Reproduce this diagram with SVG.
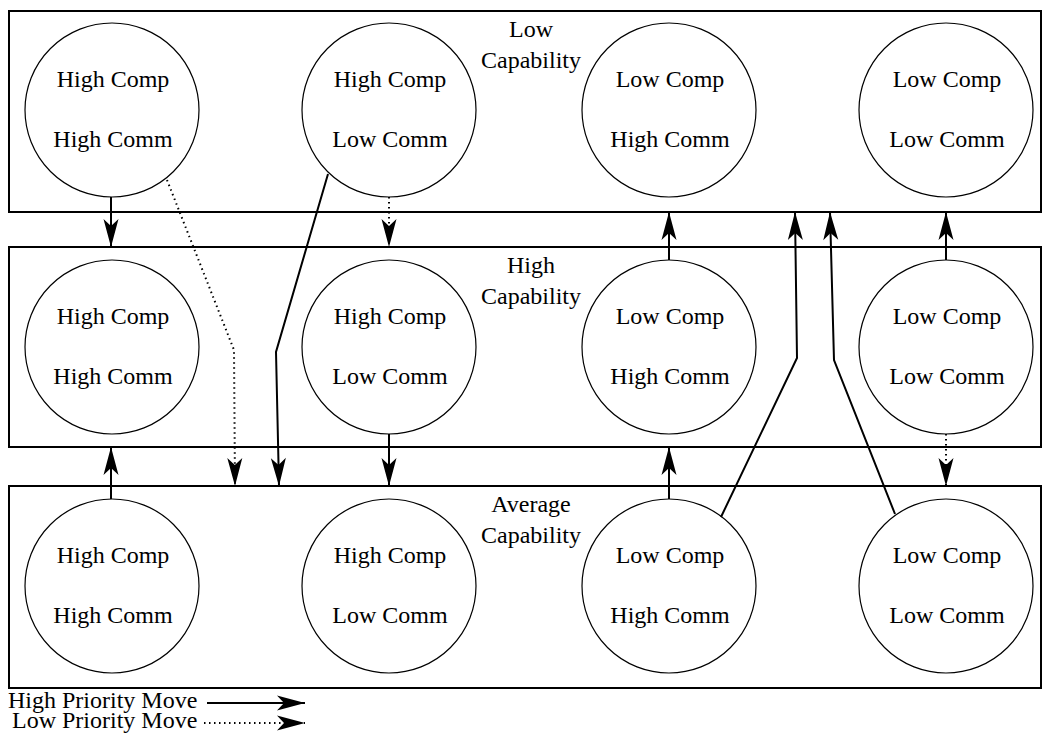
<svg xmlns="http://www.w3.org/2000/svg" width="1044" height="733" viewBox="0 0 1044 733">
<defs>
<marker id="ah" markerUnits="userSpaceOnUse" markerWidth="30" markerHeight="18" viewBox="-29 -9 30 18" refX="0" refY="0" orient="auto">
<path d="M0,0 L-28,-7.5 L-21,0 L-28,7.5 Z" fill="#000"/>
</marker>
<style>
.box{fill:none;stroke:#000;stroke-width:2}
.node circle{fill:#fff;stroke:#000;stroke-width:1.2}
text{font-family:"Liberation Serif","Times New Roman",serif;font-size:24px;fill:#000;text-anchor:middle}
.hi{fill:none;stroke:#000;stroke-width:2;marker-end:url(#ah)}
.lo{fill:none;stroke:#000;stroke-width:2;stroke-dasharray:1.5 3.5;marker-end:url(#ah)}
</style>
</defs>
<g id="rows">
<rect class="box" x="9" y="11" width="1032" height="201"/>
<rect class="box" x="9" y="247" width="1032" height="200"/>
<rect class="box" x="9" y="486" width="1032" height="202"/>
</g>
<g id="labels">
<text x="531" y="37">Low</text><text x="531" y="68">Capability</text>
<text x="531" y="273">High</text><text x="531" y="304">Capability</text>
<text x="531" y="512">Average</text><text x="531" y="543">Capability</text>
</g>
<g id="r1c1" class="node"><circle cx="112" cy="110" r="87"/><text x="113" y="87">High Comp</text><text x="113" y="147">High Comm</text></g>
<g id="r1c2" class="node"><circle cx="389" cy="110" r="87"/><text x="390" y="87">High Comp</text><text x="390" y="147">Low Comm</text></g>
<g id="r1c3" class="node"><circle cx="669" cy="110" r="87"/><text x="670" y="87">Low Comp</text><text x="670" y="147">High Comm</text></g>
<g id="r1c4" class="node"><circle cx="946" cy="110" r="87"/><text x="947" y="87">Low Comp</text><text x="947" y="147">Low Comm</text></g>
<g id="r2c1" class="node"><circle cx="112" cy="347" r="87"/><text x="113" y="324">High Comp</text><text x="113" y="384">High Comm</text></g>
<g id="r2c2" class="node"><circle cx="389" cy="347" r="87"/><text x="390" y="324">High Comp</text><text x="390" y="384">Low Comm</text></g>
<g id="r2c3" class="node"><circle cx="669" cy="347" r="87"/><text x="670" y="324">Low Comp</text><text x="670" y="384">High Comm</text></g>
<g id="r2c4" class="node"><circle cx="946" cy="347" r="87"/><text x="947" y="324">Low Comp</text><text x="947" y="384">Low Comm</text></g>
<g id="r3c1" class="node"><circle cx="112" cy="586" r="87"/><text x="113" y="563">High Comp</text><text x="113" y="623">High Comm</text></g>
<g id="r3c2" class="node"><circle cx="389" cy="586" r="87"/><text x="390" y="563">High Comp</text><text x="390" y="623">Low Comm</text></g>
<g id="r3c3" class="node"><circle cx="669" cy="586" r="87"/><text x="670" y="563">Low Comp</text><text x="670" y="623">High Comm</text></g>
<g id="r3c4" class="node"><circle cx="946" cy="586" r="87"/><text x="947" y="563">Low Comp</text><text x="947" y="623">Low Comm</text></g>
<g id="connectors">
<path class="hi" d="M111,197 L111,247"/>
<path class="lo" d="M389,197 L389,247"/>
<path class="hi" d="M669,260 L669,212"/>
<path class="hi" d="M946,260 L946,212"/>
<path class="hi" d="M389,434 L389,486"/>
<path class="lo" d="M946,434 L946,486"/>
<path class="hi" d="M111,499 L111,447"/>
<path class="hi" d="M669,499 L669,447"/>
<path class="lo" d="M167,180 L234,350 L235,486"/>
<path class="hi" d="M328,174 L276,352 L279,486"/>
<path class="hi" d="M721,517 L797,358 L795,212"/>
<path class="hi" d="M895,514 L834,360 L830,212"/>
</g>
<g id="legend">
<text x="8" y="708" style="text-anchor:start">High Priority Move</text>
<text x="12" y="728" style="text-anchor:start">Low Priority Move</text>
<path class="hi" d="M207,703 L305,703"/>
<path class="lo" d="M204,723 L305,723"/>
</g>
</svg>
